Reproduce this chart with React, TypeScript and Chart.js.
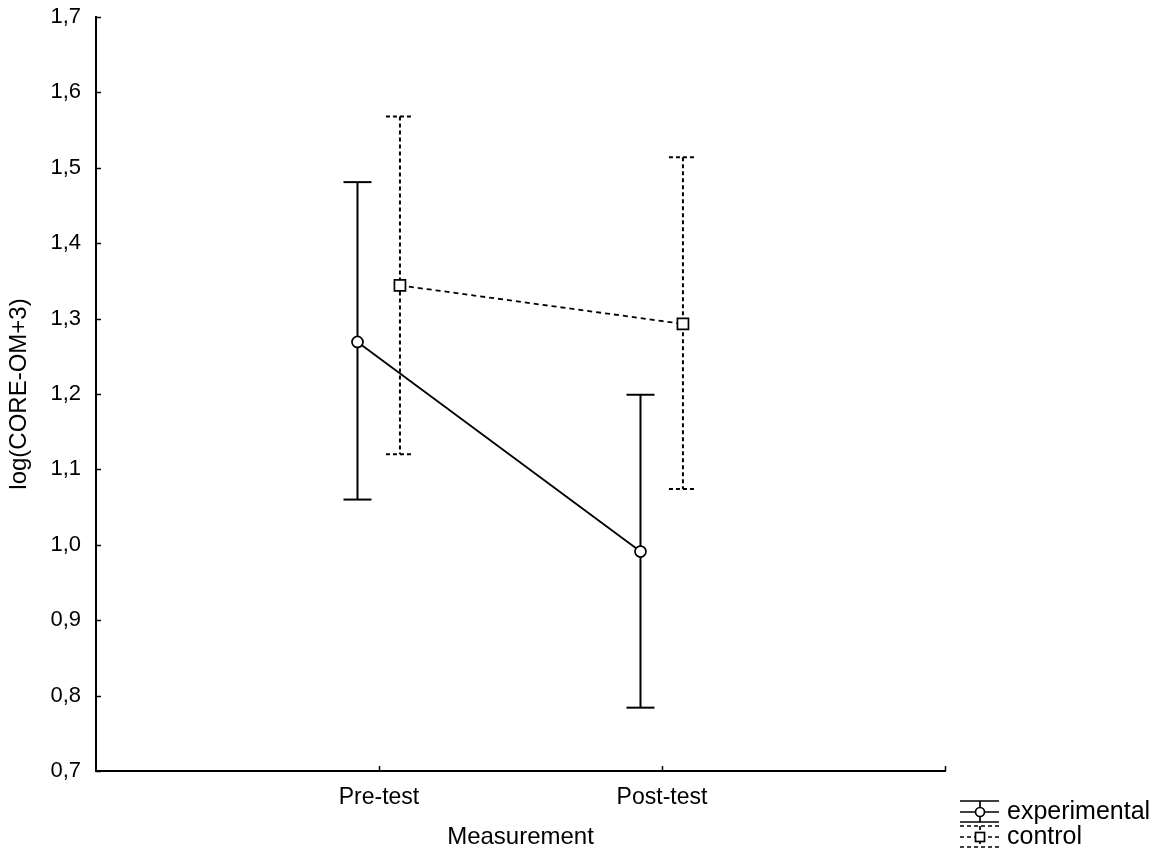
import React, { useEffect, useRef } from 'react';
import { Chart, registerables } from 'chart.js';

Chart.register(...registerables);

// ---- data ----
const categories = ['Pre-test', 'Post-test'];
const categoryPositions = [1, 2];
const seriesNames = ['experimental', 'control'];
const experimentalMean = [1.269, 0.991];
const experimentalLower = [1.06, 0.784];
const experimentalUpper = [1.481, 1.199];
const controlMean = [1.344, 1.293];
const controlLower = [1.12, 1.074];
const controlUpper = [1.568, 1.514];
const yTickValues = [0.7, 0.8, 0.9, 1.0, 1.1, 1.2, 1.3, 1.4, 1.5, 1.6, 1.7];
const xAxisTitle = 'Measurement';
const yAxisTitle = 'log(CORE-OM+3)';

// ---- style ----
const FONT = '"Liberation Sans", Arial, sans-serif';
const seriesOffsets = [-0.076, 0.074];
const seriesDash: number[][] = [[], [4, 3]];
const seriesPointStyle = ['circle', 'rect'];
const seriesPointRadius = [5.5, 7.8];

const seriesList = [
  { name: seriesNames[0], mean: experimentalMean, lower: experimentalLower, upper: experimentalUpper },
  { name: seriesNames[1], mean: controlMean, lower: controlLower, upper: controlUpper },
];

function strokeLine(ctx: CanvasRenderingContext2D, x1: number, y1: number, x2: number, y2: number) {
  ctx.beginPath();
  ctx.moveTo(x1, y1);
  ctx.lineTo(x2, y2);
  ctx.stroke();
}

const errorBarPlugin = {
  id: 'errorBars',
  beforeDatasetsDraw(chart: any) {
    const { ctx } = chart;
    const x = chart.scales.x;
    const y = chart.scales.y;
    const cap = 14;
    seriesList.forEach((s, si) => {
      ctx.save();
      ctx.strokeStyle = '#000';
      ctx.lineWidth = 2;
      ctx.setLineDash(seriesDash[si]);
      categoryPositions.forEach((cp, i) => {
        const px = x.getPixelForValue(cp + seriesOffsets[si]);
        const top = y.getPixelForValue(s.upper[i]);
        const bot = y.getPixelForValue(s.lower[i]);
        strokeLine(ctx, px, top, px, bot);
        strokeLine(ctx, px - cap, top, px + cap, top);
        strokeLine(ctx, px - cap, bot, px + cap, bot);
      });
      ctx.restore();
    });
  },
};

const inwardTicksPlugin = {
  id: 'inwardTicks',
  afterDraw(chart: any) {
    const { ctx, chartArea } = chart;
    const x = chart.scales.x;
    const y = chart.scales.y;
    ctx.save();
    ctx.strokeStyle = '#000';
    ctx.lineWidth = 1.5;
    yTickValues.forEach((v) => {
      const py = Math.round(y.getPixelForValue(v)) + 0.5;
      strokeLine(ctx, chartArea.left, py, chartArea.left + 5, py);
    });
    [...categoryPositions, x.max].forEach((v) => {
      const px = Math.round(x.getPixelForValue(v)) + 0.5;
      strokeLine(ctx, px, chartArea.bottom, px, chartArea.bottom - 5);
    });
    ctx.restore();
  },
};

const legendPlugin = {
  id: 'customLegend',
  afterDraw(chart: any) {
    const { ctx } = chart;
    const left = 960;
    const right = 999;
    const cx = 980;
    const rows = [812, 837];
    ctx.save();
    ctx.strokeStyle = '#000';
    ctx.fillStyle = '#000';
    ctx.lineWidth = 1.7;
    seriesList.forEach((s, si) => {
      const cy = rows[si];
      ctx.setLineDash(seriesDash[si].length ? [4, 3] : []);
      strokeLine(ctx, left, cy - 11, right, cy - 11);
      strokeLine(ctx, left, cy, right, cy);
      strokeLine(ctx, left, cy + 10, right, cy + 10);
      strokeLine(ctx, cx, cy - 11, cx, cy + 10);
      ctx.setLineDash([]);
      ctx.fillStyle = '#fff';
      if (seriesPointStyle[si] === 'circle') {
        ctx.beginPath();
        ctx.arc(cx, cy, 4.5, 0, Math.PI * 2);
        ctx.fill();
        ctx.stroke();
      } else {
        ctx.fillRect(cx - 4.5, cy - 4.5, 9, 9);
        ctx.strokeRect(cx - 4.5, cy - 4.5, 9, 9);
      }
      ctx.fillStyle = '#000';
      ctx.font = `25px ${FONT}`;
      ctx.textAlign = 'left';
      ctx.textBaseline = 'middle';
      ctx.fillText(s.name, 1007, cy);
    });
    ctx.restore();
  },
};

export default function App() {
  const canvasRef = useRef<HTMLCanvasElement | null>(null);

  useEffect(() => {
    if (!canvasRef.current) return;
    const datasets = seriesList.map((s, si) => ({
      label: s.name,
      data: categoryPositions.map((cp, i) => ({ x: cp + seriesOffsets[si], y: s.mean[i] })),
      showLine: true,
      borderColor: '#000',
      borderWidth: 1.8,
      borderDash: si === 1 ? [5, 4] : [],
      pointStyle: seriesPointStyle[si],
      pointRadius: seriesPointRadius[si],
      pointBorderWidth: 1.7,
      pointBorderColor: '#000',
      pointBackgroundColor: '#fff',
      fill: false,
    }));

    const chart = new Chart(canvasRef.current, {
      type: 'scatter',
      data: { datasets } as any,
      options: {
        animation: false,
        responsive: false,
        layout: { padding: { left: 0, top: 17, right: 217, bottom: 0 } },
        plugins: {
          legend: { display: false },
          tooltip: { enabled: false },
        },
        scales: {
          x: {
            type: 'linear',
            min: 0,
            max: 3,
            grid: { display: false, drawTicks: false },
            border: { display: true, color: '#000', width: 2 },
            afterBuildTicks: (scale: any) => {
              scale.ticks = categoryPositions.map((v) => ({ value: v }));
            },
            afterFit: (scale: any) => {
              scale.height = 83;
              scale.paddingLeft = 0;
              scale.paddingRight = 0;
            },
            ticks: {
              autoSkip: false,
              maxRotation: 0,
              padding: 13,
              color: '#000',
              font: { family: FONT, size: 23 },
              callback: (value: any) => {
                const idx = categoryPositions.indexOf(Number(value));
                return idx >= 0 ? categories[idx] : '';
              },
            },
            title: {
              display: true,
              text: xAxisTitle,
              color: '#000',
              font: { family: FONT, size: 24 },
              padding: { top: 0, bottom: 2 },
            },
          },
          y: {
            type: 'linear',
            min: 0.7,
            max: 1.7,
            grid: { display: false, drawTicks: false },
            border: { display: true, color: '#000', width: 2 },
            afterBuildTicks: (scale: any) => {
              scale.ticks = yTickValues.map((v) => ({ value: v }));
            },
            afterFit: (scale: any) => {
              scale.width = 96;
              scale.paddingTop = 0;
              scale.paddingBottom = 0;
            },
            ticks: {
              autoSkip: false,
              padding: 15,
              color: '#000',
              font: { family: FONT, size: 22 },
              callback: (value: any) => Number(value).toFixed(1).replace('.', ','),
            },
            title: {
              display: true,
              text: yAxisTitle,
              color: '#000',
              font: { family: FONT, size: 24 },
              padding: { top: 5, bottom: 0 },
            },
          },
        },
      },
      plugins: [errorBarPlugin, inwardTicksPlugin, legendPlugin],
    } as any);

    return () => chart.destroy();
  }, []);

  return (
    <div style={{ position: 'absolute', left: 0, top: 0, width: 1162, height: 854, background: '#fff' }}>
      <canvas ref={canvasRef} width={1162} height={854} style={{ display: 'block' }} />
    </div>
  );
}
